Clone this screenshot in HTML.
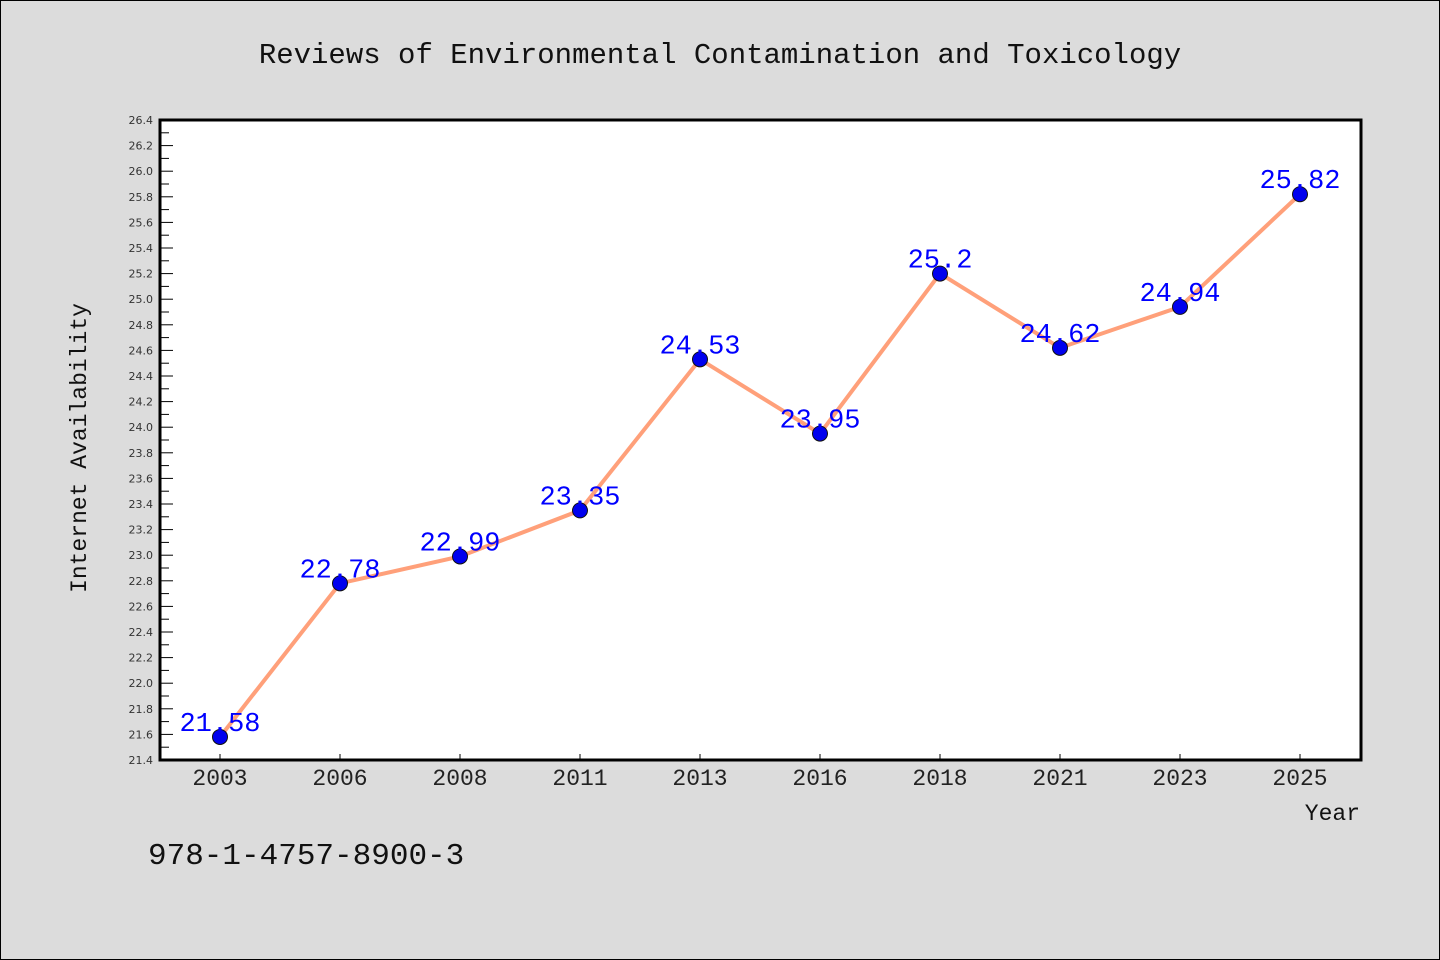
<!DOCTYPE html>
<html><head><meta charset="utf-8">
<style>
body{margin:0;background:#dcdcdc;}
svg{display:block;font-family:"WenQuanYi Zen Hei","Liberation Mono",monospace;}
</style></head>
<body>
<svg width="1440" height="960" viewBox="0 0 1440 960">
<rect x="0.5" y="0.5" width="1439" height="959" fill="#dcdcdc" stroke="#000"/>
<text x="720" y="63" text-anchor="middle" font-size="29" fill="#111">Reviews of Environmental Contamination and Toxicology</text>
<rect x="160" y="120" width="1201" height="640" fill="#fff"/>
<g id="yaxis"></g>
<g id="xaxis"></g>
<g id="series"></g>
<rect x="160" y="120" width="1201" height="640" fill="none" stroke="#000" stroke-width="3"/>
<text x="86" y="448" transform="rotate(-90 86 448)" text-anchor="middle" font-size="23" fill="#111">Internet Availability</text>
<text x="1360" y="820" text-anchor="end" font-size="23" fill="#111">Year</text>
<text x="148" y="864" font-size="31" fill="#111">978-1-4757-8900-3</text>
</svg>
<script>
const categories=["2003","2006","2008","2011","2013","2016","2018","2021","2023","2025"];
const values=[21.58,22.78,22.99,23.35,24.53,23.95,25.2,24.62,24.94,25.82];
const valueLabels=["21.58","22.78","22.99","23.35","24.53","23.95","25.2","24.62","24.94","25.82"];
const yMin=21.4,yMax=26.4;
const NS="http://www.w3.org/2000/svg";
const L=160,R=1361,T=120,B=760;
const y=v=>B-(v-yMin)/(yMax-yMin)*(B-T);
const band=(R-L-1)/categories.length;
const x=i=>L+band*(i+0.5);
function mk(tag,attrs,parent){const e=document.createElementNS(NS,tag);for(const k in attrs)e.setAttribute(k,attrs[k]);parent.appendChild(e);return e;}
const ya=document.getElementById('yaxis');
for(let k=0;k<=50;k++){
  const v=yMin+k*0.1;const yy=y(v);
  const major=k%2===0;
  const t=mk('line',{x1:L,x2:L+(major?13:9),y1:yy,y2:yy,stroke:'#000','stroke-width':1},ya);
  
  
  if(major){
    const tx=mk('text',{x:L-7,y:yy+4,'text-anchor':'end','font-size':11,fill:'#333','font-family':'DejaVu Sans, sans-serif'},ya);
    tx.textContent=v.toFixed(1);
    
    
  }
}
const xa=document.getElementById('xaxis');
categories.forEach((c,i)=>{
  const t=mk('line',{x1:x(i),x2:x(i),y1:B,y2:B-6,stroke:'#000','stroke-width':1},xa);
  
  
  const tx=mk('text',{x:x(i),y:B+25,'text-anchor':'middle','font-size':23,fill:'#222'},xa);
  tx.textContent=c;
  
  
});
const s=document.getElementById('series');
const pl=mk('polyline',{points:values.map((v,i)=>x(i)+','+y(v)).join(' '),fill:'none',stroke:'#FFA07A','stroke-width':4},s);


values.forEach((v,i)=>{
  const c=mk('circle',{cx:x(i),cy:y(v),r:7.5,fill:'#0000ee',stroke:'#111','stroke-width':1},s);
  
  
  const t=mk('text',{x:x(i),y:y(v)-6,'text-anchor':'middle','font-size':27,fill:'#0000ff'},s);
  t.textContent=valueLabels[i];
  
  
});
</script>
</body></html>
